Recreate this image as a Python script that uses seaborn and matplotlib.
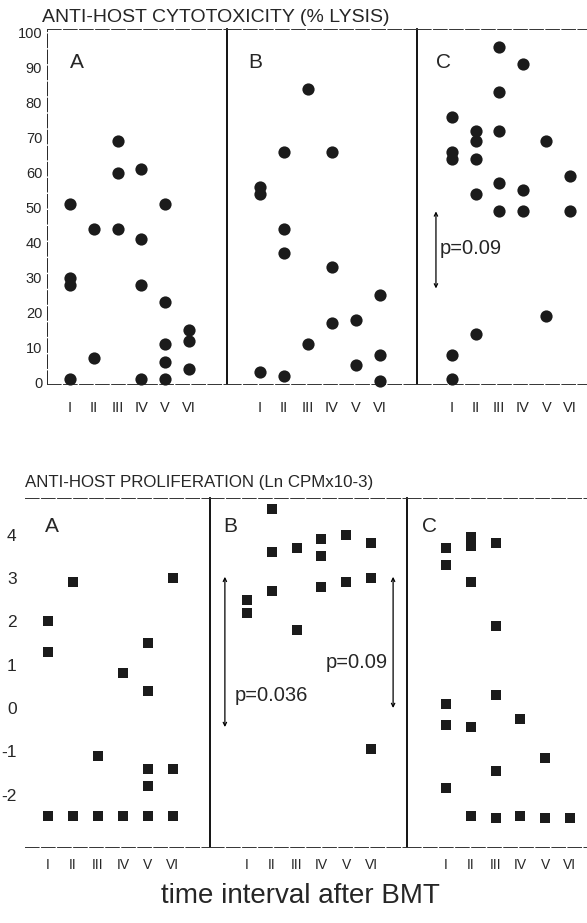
import matplotlib
matplotlib.use("Agg")
import matplotlib.pyplot as plt
import seaborn as sns
import pandas as pd

# ---------------- data ----------------
intervals = ["I", "II", "III", "IV", "V", "VI"]
panels = ["A", "B", "C"]

# anti-host cytotoxicity (% lysis), one list per interval
cyto_A = [[51, 30, 28, 1], [44, 7], [69, 60, 44], [61, 41, 28, 1], [51, 23, 11, 6, 1], [15, 12, 4]]
cyto_B = [[56, 54, 3], [66, 44, 37, 2], [84, 11], [66, 33, 17], [18, 5], [25, 8, 0.5]]
cyto_C = [[76, 66, 64, 8, 1], [72, 69, 64, 54, 14], [96, 83, 72, 57, 49], [91, 55, 49], [69, 19], [59, 49]]

# anti-host proliferation (Ln CPM x10-3)
prolif_A = [[2.0, 1.3, -2.5], [2.9, -2.5], [-1.1, -2.5], [0.8, -2.5], [1.5, 0.4, -1.4, -1.8, -2.5], [3.0, -1.4, -2.5]]
prolif_B = [[2.5, 2.2], [4.6, 3.6, 2.7], [3.7, 1.8], [3.9, 3.5, 2.8], [4.0, 2.9], [3.8, 3.0, -0.95]]
prolif_C = [[3.7, 3.3, 0.1, -0.4, -1.85], [3.95, 3.75, 2.9, -0.45, -2.5], [3.8, 1.9, 0.3, -1.45, -2.55],
            [-0.25, -2.5], [-1.15, -2.55], [-2.55]]

cyto_ticks = [0, 10, 20, 30, 40, 50, 60, 70, 80, 90, 100]
prolif_ticks = [4, 3, 2, 1, 0, -1, -2]
prolif_ticklabels = ["4", "3", "2", "1", "0", "-1", "-2"]

top_title = "ANTI-HOST CYTOTOXICITY (% LYSIS)"
bottom_title = "ANTI-HOST PROLIFERATION (Ln CPMx10-3)"
xlabel_text = "time interval after BMT"

# p-value annotations: (panel, y_top, y_bottom, label)
cyto_pvals = [("C", 49, 27, "p=0.09")]
prolif_pvals = [("B", 3.03, -0.44, "p=0.036"), ("B", 3.03, 0.0, "p=0.09")]


def to_frame(groups):
    rows = []
    for iv, vals in zip(intervals, groups):
        for v in vals:
            rows.append({"interval": iv, "value": v})
    return pd.DataFrame(rows)


cyto_df = {"A": to_frame(cyto_A), "B": to_frame(cyto_B), "C": to_frame(cyto_C)}
prolif_df = {"A": to_frame(prolif_A), "B": to_frame(prolif_B), "C": to_frame(prolif_C)}

# ---------------- style ----------------
sns.set_style("white")
plt.rcParams["font.family"] = ["Liberation Sans", "DejaVu Sans"]

W, H = 587, 923
fig = plt.figure(figsize=(W / 100, H / 100), dpi=100)


def rect(x0, x1, y0, y1):
    # pixel box -> figure fraction
    return [x0 / W, 1 - y1 / H, (x1 - x0) / W, (y1 - y0) / H]


INK = "#1b1b1b"
dash = (0, (14, 2.5))

# pixel extents and x-limits per panel
top_px = {"A": (47, 227), "B": (227, 417), "C": (417, 587)}
top_xlim = {"A": (-0.966, 6.60), "B": (-1.375, 6.54), "C": (-1.483, 5.72)}
bot_px = {"A": (25, 210), "B": (210, 407), "C": (407, 587)}
bot_xlim = {"A": (-0.92, 6.48), "B": (-1.49, 6.45), "C": (-1.57, 5.69)}

top_axes = {}
bot_axes = {}

for p in panels:
    # ---------- cytotoxicity ----------
    x0, x1 = top_px[p]
    ax = fig.add_axes(rect(x0, x1, 29, 384))
    sns.stripplot(data=cyto_df[p], x="interval", y="value", order=intervals, jitter=False,
                  marker="o", size=8.8, color=INK, linewidth=0, ax=ax, clip_on=False, zorder=3)
    ax.set_xlim(*top_xlim[p])
    ax.set_ylim(-0.29, 101.1)
    ax.set_xlabel("")
    ax.set_ylabel("")
    ax.tick_params(axis="x", length=0, pad=12, labelsize=10.5)
    if p == "A":
        ax.set_yticks(cyto_ticks)
        ax.tick_params(axis="y", direction="inout", length=5, width=0.7, pad=1, labelsize=10.5)
        ax.spines["left"].set_visible(True)
        ax.spines["left"].set_linestyle(dash)
        ax.spines["left"].set_linewidth(0.7)
    else:
        ax.set_yticks([])
        ax.spines["left"].set_visible(False)
    for s in ("top", "bottom"):
        ax.spines[s].set_visible(True)
        ax.spines[s].set_linestyle(dash)
        ax.spines[s].set_linewidth(0.7)
        ax.spines[s].set_color("#333333")
    if p != "C":
        ax.spines["right"].set_visible(True)
        ax.spines["right"].set_linewidth(1.3)
        ax.spines["right"].set_color("black")
    else:
        ax.spines["right"].set_visible(False)
    ax.patch.set_alpha(0)
    top_axes[p] = ax

    # ---------- proliferation ----------
    x0, x1 = bot_px[p]
    bx = fig.add_axes(rect(x0, x1, 498, 847))
    sns.stripplot(data=prolif_df[p], x="interval", y="value", order=intervals, jitter=False,
                  marker="s", size=7.8, color=INK, linewidth=0, ax=bx, clip_on=False, zorder=3)
    bx.set_xlim(*bot_xlim[p])
    bx.set_ylim(-3.21, 4.85)
    bx.set_xlabel("")
    bx.set_ylabel("")
    bx.tick_params(axis="x", length=0, pad=8, labelsize=10)
    if p == "A":
        bx.set_yticks(prolif_ticks)
        bx.set_yticklabels(prolif_ticklabels)
        bx.tick_params(axis="y", direction="in", length=4, width=0.7, pad=6, labelsize=12.5)
    else:
        bx.set_yticks([])
    bx.spines["left"].set_visible(False)
    for s in ("top", "bottom"):
        bx.spines[s].set_visible(True)
        bx.spines[s].set_linestyle(dash)
        bx.spines[s].set_linewidth(0.7)
        bx.spines[s].set_color("#333333")
    if p != "C":
        bx.spines["right"].set_visible(True)
        bx.spines["right"].set_linewidth(1.3)
        bx.spines["right"].set_color("black")
    else:
        bx.spines["right"].set_visible(False)
    bx.patch.set_alpha(0)
    bot_axes[p] = bx

# panel letters
letter_top = {"A": 70, "B": 248, "C": 436}
letter_bot = {"A": 45, "B": 223, "C": 422}
for p in panels:
    fig.text(letter_top[p] / W, 1 - 62 / H, p, fontsize=15, ha="left", va="center")
    fig.text(letter_bot[p] / W, 1 - 527 / H, p, fontsize=15, ha="left", va="center")

# titles
fig.text(42 / W, 1 - 18 / H, top_title, fontsize=14, ha="left", va="center")
fig.text(25 / W, 1 - 482 / H, bottom_title, fontsize=12.2, ha="left", va="center")
fig.text(300 / W, 1 - 896 / H, xlabel_text, fontsize=20, ha="center", va="center")

# p-value brackets
arrow_kw = dict(arrowstyle="<->", lw=0.9, color="black", shrinkA=0, shrinkB=0, mutation_scale=6)

p_, y1, y2, lab = cyto_pvals[0]
ax = top_axes[p_]
ax.annotate("", xy=(-0.68, y1), xytext=(-0.68, y2), arrowprops=arrow_kw, annotation_clip=False)
ax.text(-0.51, (y1 + y2) / 2 + 0.5, lab, fontsize=14.5, ha="left", va="center")

bx = bot_axes["B"]
p_, y1, y2, lab = prolif_pvals[0]
bx.annotate("", xy=(-0.89, y1), xytext=(-0.89, y2), arrowprops=arrow_kw, annotation_clip=False)
bx.text(-0.48, 0.30, lab, fontsize=14.5, ha="left", va="center")
p_, y1, y2, lab = prolif_pvals[1]
bx.annotate("", xy=(5.89, y1), xytext=(5.89, y2), arrowprops=arrow_kw, annotation_clip=False)
bx.text(5.69, 1.04, lab, fontsize=14.5, ha="right", va="center")

fig.savefig("out.png", dpi=100)
